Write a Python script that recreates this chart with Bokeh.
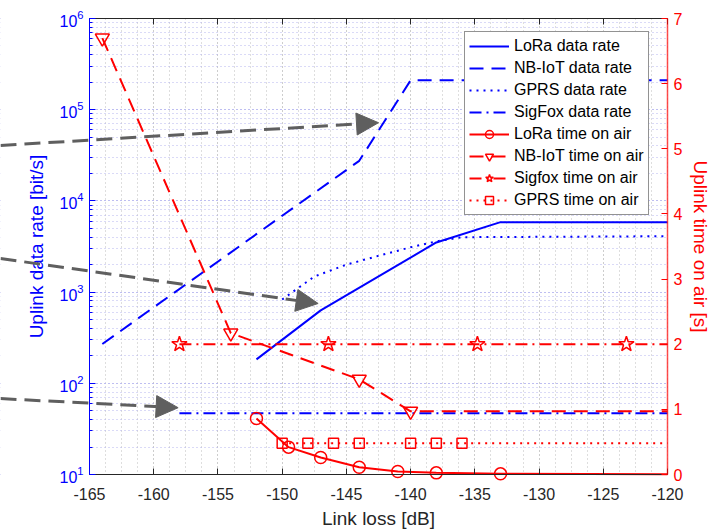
from bokeh.plotting import figure
from bokeh.models import (Range1d, LinearAxis, LinearScale, Arrow, NormalHead, Legend, LegendItem,
                          SingleIntervalTicker, CustomJSTickFormatter)
from bokeh.embed import file_html
from bokeh.resources import INLINE

# ---------------- data rates (left axis, bit/s) ----------------
lora_rate_x = [-152, -147, -138, -133, -120]
lora_rate_y = [183, 630, 3500, 5850, 5850]
nbiot_rate_x = [-164, -144, -140, -120]
nbiot_rate_y = [270, 27500, 210000, 210000]
gprs_rate_x = [-150, -147.5, -145, -142.5, -140, -138, -136, -120]
gprs_rate_y = [830, 1480, 2000, 2500, 3100, 3600, 4000, 4100]
sigfox_rate_x = [-158, -120]
sigfox_rate_y = [47, 47]

# ---------------- time on air (right axis, s) ----------------
lora_toa_x = [-152, -149.5, -147, -144, -141, -138, -133, -120]
lora_toa_y = [0.86, 0.42, 0.26, 0.11, 0.046, 0.025, 0.01, 0.005]
nbiot_toa_x = [-164, -154, -144, -140, -120]
nbiot_toa_y = [6.7, 2.17, 1.46, 0.97, 0.97]
sigfox_toa_x = [-158, -146.4, -134.8, -123.2, -120]
sigfox_toa_y = [2.0, 2.0, 2.0, 2.0, 2.0]
gprs_toa_x = [-150, -148, -146, -144, -140, -138, -136, -120]
gprs_toa_y = [0.48, 0.48, 0.48, 0.48, 0.48, 0.48, 0.48, 0.48]

# ---------------- annotation arrows (tails start at the page's left edge) ----------------
arrow_x_start = [-171.93, -171.93, -171.93]
arrow_y_start = [40500, 2335, 68]
arrow_x_end = [-142.5, -147.2, -158.1]
arrow_y_end = [72000, 750, 54]

# axes box limits
X_MIN, X_MAX = -165, -120
Y_MIN, Y_MAX = 10, 1e6
T_MIN, T_MAX = 0, 7

# page layout (pixels): the drawing frame spans the whole page and the axes box
# sits inside it, so the arrows can start outside the box
W, H = 722, 531
BOX_L, BOX_R, BOX_T, BOX_B = 89, 667, 18, 474
bw, bh = BOX_R - BOX_L, BOX_B - BOX_T
X_EDGE = X_MIN - (X_MAX - X_MIN) * BOX_L / bw
X_REDGE = X_MAX + (X_MAX - X_MIN) * (W - BOX_R) / bw
Y_TOP = 10 ** (6 + 5 * BOX_T / bh)
Y_BOT = 10 ** (1 - 5 * (H - BOX_B) / bh)
T_TOP = T_MAX + (T_MAX - T_MIN) * BOX_T / bh
T_BOT = T_MIN - (T_MAX - T_MIN) * (H - BOX_B) / bh

FONT = "Liberation Sans"
BLUE = "#0000ff"
RED = "#ff0000"
DARK = "#262626"

p = figure(width=W, height=H, y_axis_type="log",
           x_range=Range1d(X_EDGE, X_REDGE), y_range=Range1d(Y_BOT, Y_TOP),
           output_backend="svg", toolbar_location=None,
           min_border_left=0, min_border_right=0, min_border_top=0, min_border_bottom=0)
p.outline_line_color = None
p.background_fill_color = "white"
p.border_fill_color = "white"
p.extra_y_ranges = {"toa": Range1d(T_BOT, T_TOP)}
p.extra_y_scales = {"toa": LinearScale()}

# x axis (bottom), pinned at y = 10
xt = SingleIntervalTicker(interval=5, num_minor_ticks=4)
xa = p.xaxis[0]
xa.ticker = xt
xa.formatter = CustomJSTickFormatter(code="return String(tick)")
xa.fixed_location = Y_MIN
xa.bounds = (X_MIN, X_MAX)
xa.axis_line_color = DARK
xa.major_tick_line_color = DARK
xa.major_tick_in = 6
xa.major_tick_out = 0
xa.minor_tick_line_color = None
xa.major_label_text_font = FONT
xa.major_label_text_font_size = "16px"
xa.major_label_text_color = DARK
xa.major_label_standoff = 9
xa.axis_label = "Link loss [dB]"
xa.axis_label_text_font = FONT
xa.axis_label_text_font_size = "19px"
xa.axis_label_text_font_style = "normal"
xa.axis_label_text_color = DARK
xa.axis_label_standoff = 5

# left axis (log), pinned at x = -165
ya = p.yaxis[0]
ya.fixed_location = X_MIN
ya.bounds = (Y_MIN, Y_MAX)
ya.axis_line_color = BLUE
ya.major_tick_line_color = BLUE
ya.minor_tick_line_color = BLUE
ya.major_tick_in = 6
ya.major_tick_out = 0
ya.minor_tick_in = 3
ya.minor_tick_out = 0
ya.major_label_text_font = FONT
ya.major_label_text_font_size = "16px"
ya.major_label_text_color = BLUE
ya.major_label_standoff = 6
ya.axis_label = "Uplink data rate [bit/s]"
ya.axis_label_text_font = FONT
ya.axis_label_text_font_size = "19px"
ya.axis_label_text_font_style = "normal"
ya.axis_label_text_color = BLUE
ya.axis_label_standoff = 9

# right axis, pinned at x = -120
ra = LinearAxis(y_range_name="toa", ticker=SingleIntervalTicker(interval=1, num_minor_ticks=0))
ra.fixed_location = X_MAX
ra.bounds = (T_MIN, T_MAX)
ra.axis_line_color = RED
ra.axis_line_alpha = 0.7
ra.axis_line_width = 1.5
ra.major_tick_line_color = RED
ra.major_tick_in = 6
ra.major_tick_out = 0
ra.minor_tick_line_color = None
ra.major_label_text_font = FONT
ra.major_label_text_font_size = "16px"
ra.major_label_text_color = RED
ra.major_label_standoff = 6
ra.axis_label = "Uplink time on air [s]"
ra.axis_label_text_font = FONT
ra.axis_label_text_font_size = "19px"
ra.axis_label_text_font_style = "normal"
ra.axis_label_text_color = RED
ra.axis_label_standoff = 5
p.add_layout(ra, "right")

# top axis (box with ticks, no labels), pinned at y = 1e6
ta = LinearAxis(ticker=SingleIntervalTicker(interval=5, num_minor_ticks=0),
                formatter=CustomJSTickFormatter(code="return ''"))
ta.fixed_location = Y_MAX
ta.bounds = (X_MIN, X_MAX)
ta.axis_line_color = DARK
ta.major_tick_line_color = DARK
ta.major_tick_in = 6
ta.major_tick_out = 0
ta.minor_tick_line_color = None
ta.major_label_text_font_size = "1px"
ta.major_label_standoff = 0
p.add_layout(ta, "above")

# grids (dotted)
p.xgrid.ticker = xt
p.xgrid.grid_line_color = "#bdbdbd"
p.xgrid.grid_line_dash = "1 3"
p.xgrid.minor_grid_line_color = "#bdbdbd"
p.xgrid.minor_grid_line_dash = "1 3"
p.ygrid.grid_line_color = "#b4b4ee"
p.ygrid.grid_line_dash = "1 3"
p.ygrid.minor_grid_line_color = "#b4b4ee"
p.ygrid.minor_grid_line_dash = "1 3"

# white covers for the frame outside the axes box (hide grid lines there)
p.quad(left=[X_EDGE, X_MAX, X_EDGE, X_EDGE], right=[X_MIN, X_REDGE, X_REDGE, X_REDGE],
       bottom=[Y_BOT, Y_BOT, Y_BOT, Y_MAX], top=[Y_TOP, Y_TOP, Y_MIN, Y_TOP],
       fill_color="white", line_color=None)

LW = 2
# data rate lines
r_lora = p.line(lora_rate_x, lora_rate_y, color=BLUE, line_width=LW)
r_nb = p.line(nbiot_rate_x, nbiot_rate_y, color=BLUE, line_width=LW, line_dash="14 8")
r_gprs = p.line(gprs_rate_x, gprs_rate_y, color=BLUE, line_width=LW, line_dash="2 5")
r_sf = p.line(sigfox_rate_x, sigfox_rate_y, color=BLUE, line_width=LW, line_dash="12 5 2 5")

# time on air
t_lora = p.line(lora_toa_x, lora_toa_y, color=RED, line_width=LW, y_range_name="toa")
m_lora = p.scatter(lora_toa_x[:-1], lora_toa_y[:-1], marker="circle", size=12, fill_color=None,
                   line_color=RED, line_width=1.5, y_range_name="toa")
t_nb = p.line(nbiot_toa_x, nbiot_toa_y, color=RED, line_width=LW, line_dash="14 8", y_range_name="toa")
m_nb = p.scatter(nbiot_toa_x[:-1], nbiot_toa_y[:-1], marker="inverted_triangle", size=14, fill_color=None,
                 line_color=RED, line_width=1.5, y_range_name="toa")
t_sf = p.line(sigfox_toa_x, sigfox_toa_y, color=RED, line_width=LW, line_dash="12 5 2 5", y_range_name="toa")
m_sf = p.scatter(sigfox_toa_x[:-1], sigfox_toa_y[:-1], marker="star", size=16, fill_color=None,
                 line_color=RED, line_width=1.5, y_range_name="toa")
t_gp = p.line(gprs_toa_x, gprs_toa_y, color=RED, line_width=LW, line_dash="2 5", y_range_name="toa")
m_gp = p.scatter(gprs_toa_x[:-1], gprs_toa_y[:-1], marker="square", size=10, fill_color=None,
                 line_color=RED, line_width=1.5, y_range_name="toa")

# arrows
for xs, ys, xe, ye in zip(arrow_x_start, arrow_y_start, arrow_x_end, arrow_y_end):
    p.add_layout(Arrow(end=NormalHead(size=22, fill_color="#5f5f5f", line_color="#5f5f5f", line_width=1),
                       x_start=xs, y_start=ys, x_end=xe, y_end=ye,
                       line_color="#5f5f5f", line_width=3, line_dash="16 8"))

legend = Legend(items=[
    LegendItem(label="LoRa data rate", renderers=[r_lora]),
    LegendItem(label="NB-IoT data rate", renderers=[r_nb]),
    LegendItem(label="GPRS data rate", renderers=[r_gprs]),
    LegendItem(label="SigFox data rate", renderers=[r_sf]),
    LegendItem(label="LoRa time on air", renderers=[t_lora, m_lora]),
    LegendItem(label="NB-IoT time on air", renderers=[t_nb, m_nb]),
    LegendItem(label="Sigfox time on air", renderers=[t_sf, m_sf]),
    LegendItem(label="GPRS time on air", renderers=[t_gp, m_gp]),
], location=(464, H - 215))
legend.padding = 4
legend.spacing = 2
legend.glyph_width = 40
legend.glyph_height = 20
legend.label_height = 20
legend.label_standoff = 5
legend.label_text_font = FONT
legend.label_text_font_size = "16px"
legend.label_text_color = "black"
legend.border_line_color = DARK
legend.border_line_width = 1
legend.background_fill_color = "white"
legend.background_fill_alpha = 1
p.add_layout(legend, "center")

open("out.html", "w").write(file_html(p, INLINE))
